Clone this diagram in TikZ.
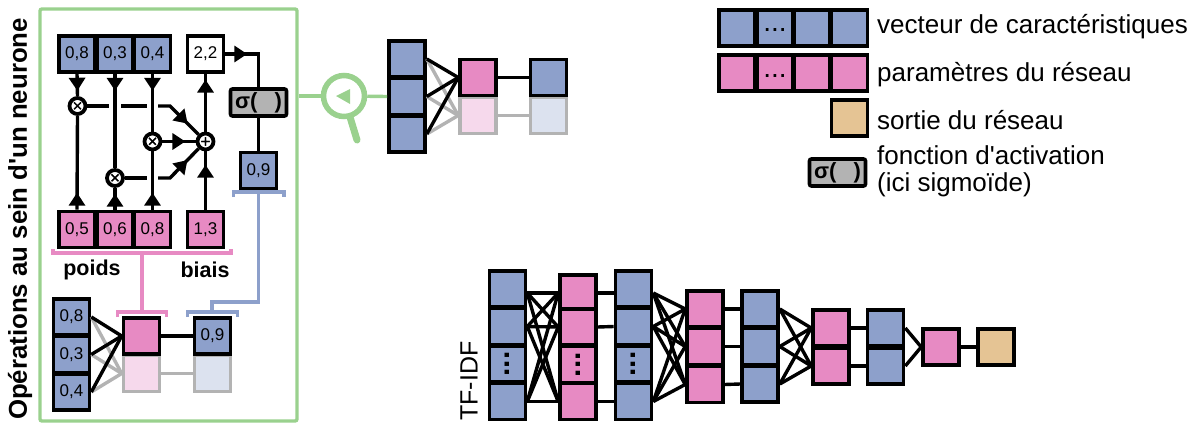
\documentclass[tikz,border=0pt]{standalone}
\usepackage{fontspec}
\setmainfont{Liberation Sans}[Ligatures=TeXOff]
\newfontfamily\opfont{DejaVu Sans}[FakeBold=3]
\usetikzlibrary{arrows.meta, decorations.markings}
\definecolor{vecblue}{HTML}{8DA0CB}
\definecolor{parpink}{HTML}{E78AC3}
\definecolor{outtan}{HTML}{E5C494}
\definecolor{zoomgreen}{HTML}{9AD18E}
\definecolor{fadegray}{HTML}{B3B3B3}
\definecolor{fadepink}{HTML}{F6D9EC}
\definecolor{fadeblue}{HTML}{DCE2EF}
\tikzset{
  cell/.style={draw=black, line width=3.6pt, minimum width=36pt, minimum height=36pt, inner sep=0pt, font=\fontsize{17}{17}\selectfont},
  bluecell/.style={cell, fill=vecblue},
  pinkcell/.style={cell, fill=parpink},
  tancell/.style={cell, fill=outtan},
  whitecell/.style={cell, fill=white},
  fadepinkcell/.style={cell, draw=fadegray, fill=fadepink},
  fadebluecell/.style={cell, draw=fadegray, fill=fadeblue},
  sigbox/.style={draw=black, fill=fadegray, line width=3.6pt, rounded corners=2pt, minimum width=56pt, minimum height=27pt, inner sep=0pt, font=\fontsize{22}{22}\selectfont\bfseries},
  opcircle/.style={circle, draw=black, fill=white, line width=3.8pt, minimum size=16pt, inner sep=0pt, font=\fontsize{13}{13}\selectfont\opfont},
  link/.style={draw=black, line width=3.4pt},
  fadelink/.style={draw=fadegray, line width=3.4pt},
  midtip/.style={postaction={decorate}, decoration={markings, mark=at position #1 with {\arrow{Triangle[length=13pt,width=16pt]}}}},
  pinkbrace/.style={draw=parpink, line width=3.2pt},
  bluebrace/.style={draw=vecblue, line width=3.2pt},
  greenline/.style={draw=zoomgreen, line width=3.4pt},
  label/.style={anchor=west, inner sep=0pt, font=\fontsize{26}{27}\selectfont},
  boldlabel/.style={inner sep=0pt, font=\fontsize{21.5}{21.5}\selectfont\bfseries},
  hdots/.style={inner sep=0pt, font=\fontsize{28}{28}\selectfont},
  vdots/.style={inner sep=0pt, rotate=90, font=\fontsize{30}{30}\selectfont\bfseries},
}

\begin{document}
\begin{tikzpicture}[x=1pt, y=-1pt]
\useasboundingbox (0,0) rectangle (1197,423);

% frame around the neuron
\node[draw=zoomgreen, line width=3.4pt, rounded corners=2pt, minimum width=257pt, minimum height=412pt, inner sep=0pt] (frame) at (168.5,215) {};
\node[rotate=90, inner sep=0pt, font=\fontsize{25.8}{26}\selectfont\bfseries] (title) at (20,219) {Opérations au sein d'un neurone};

% inside of the neuron
\node[bluecell] (feat1) at (77,54) {0,8};
\node[bluecell] (feat2) at (115,54) {0,3};
\node[bluecell] (feat3) at (152.5,54) {0,4};
\node[whitecell] (sumval) at (205.5,54) {2,2};
\node[pinkcell] (wght1) at (77,229.5) {0,5};
\node[pinkcell] (wght2) at (115,229.5) {0,6};
\node[pinkcell] (wght3) at (152.5,229.5) {0,8};
\node[pinkcell] (bias) at (205.5,229.5) {1,3};
\node[sigbox] (sigma) at (258.5,102.5) {σ(\hspace{17pt})};
\node[bluecell] (outval) at (258.5,170.5) {0,9};
\node[opcircle] (mula) at (77.5,106) {×};
\node[opcircle] (mulb) at (152.5,141.5) {×};
\node[opcircle] (mulc) at (115,178) {×};
\node[opcircle] (add) at (205.5,141.5) {+};

\draw[link, midtip=17pt] (feat1.south) -- (mula.north);
\draw[link, midtip=17pt] (feat2.south) -- (mulc.north);
\draw[link, midtip=17pt] (feat3.south) -- (mulb.north);
\draw[link, midtip=17pt] (wght1.north) -- (mula.south);
\draw[link, midtip=16pt] (wght2.north) -- (mulc.south);
\draw[link, midtip=17pt] (wght3.north) -- (mulb.south);
\draw[link, midtip=45pt] (bias.north) -- (add.south);
\draw[link, midtip=52pt] (add.north) -- (sumval.south);
\draw[link, midtip=22pt] (sumval.east) -| (sigma.north);
\draw[link] (sigma.south) -- (outval.north);

% products going to the sum, broken where they pass the wires
\coordinate (gapa) at (109,106);
\coordinate (gapb) at (121,106);
\coordinate (gapc) at (147,106);
\coordinate (gapd) at (158,106);
\coordinate (benda) at (170,106);
\coordinate (gape) at (147,178);
\coordinate (gapf) at (158,178);
\coordinate (bendc) at (170,178);
\draw[link] (mula.east) -- (gapa);
\draw[link] (gapb) -- (gapc);
\draw[link, midtip=37pt] (gapd) -- (benda) -- (add);
\draw[link, midtip=23pt] (mulb.east) -- (add.west);
\draw[link] (mulc.east) -- (gape);
\draw[link, midtip=37pt] (gapf) -- (bendc) -- (add);

% braces
\coordinate (pinkfrom) at (142,253);
\coordinate (pinkto) at (142,312);
\coordinate (bluefrom) at (258.5,192);
\coordinate (blueto) at (212,312);
\draw[pinkbrace] (53,249) -- (53,253) -- (231,253) -- (231,249);
\draw[pinkbrace] (117.5,317) -- (117.5,312) -- (166.5,312) -- (166.5,317);
\draw[pinkbrace] (pinkfrom) -- (pinkto);
\draw[bluebrace] (233.5,197) -- (233.5,192) -- (284,192) -- (284,197);
\draw[bluebrace] (187.5,317) -- (187.5,312) -- (237.5,312) -- (237.5,317);
\draw[bluebrace] (bluefrom) |- (212,302) -- (blueto);
\node[boldlabel] (poids) at (92,270) {poids};
\node[boldlabel] (biais) at (205,270) {biais};

% small network in the frame
\node[bluecell] (lowin1) at (71.5,317) {0,8};
\node[bluecell] (lowin2) at (71.5,354.5) {0,3};
\node[bluecell] (lowin3) at (71.5,392) {0,4};
\node[fadepinkcell] (lowfadeh) at (141.5,373.5) {};
\node[fadebluecell] (lowfadeo) at (212.5,373.5) {};
\draw[fadelink] (lowin1.east) -- (lowfadeh.west);
\draw[fadelink] (lowin2.east) -- (lowfadeh.west);
\draw[fadelink] (lowin3.east) -- (lowfadeh.west);
\draw[fadelink] (lowfadeh.east) -- (lowfadeo.west);
\node[pinkcell] (lowh) at (141.5,336) {};
\node[bluecell] (lowo) at (212.5,336) {0,9};
\draw[link] (lowin1.east) -- (lowh.west);
\draw[link] (lowin2.east) -- (lowh.west);
\draw[link] (lowin3.east) -- (lowh.west);
\draw[link] (lowh.east) -- (lowo.west);

% small network on top
\node[bluecell] (topin1) at (407,59) {};
\node[bluecell] (topin2) at (407,96.5) {};
\node[bluecell] (topin3) at (407,134) {};
\node[fadepinkcell] (topfadeh) at (478,115.5) {};
\node[fadebluecell] (topfadeo) at (548.5,115.5) {};
\draw[fadelink] (topin1.east) -- (topfadeh.west);
\draw[fadelink] (topin2.east) -- (topfadeh.west);
\draw[fadelink] (topin3.east) -- (topfadeh.west);
\draw[fadelink] (topfadeh.east) -- (topfadeo.west);
\node[pinkcell] (toph) at (478,77.5) {};
\node[bluecell] (topo) at (548.5,77.5) {};
\draw[link] (topin1.east) -- (toph.west);
\draw[link] (topin2.east) -- (toph.west);
\draw[link] (topin3.east) -- (toph.west);
\draw[link] (toph.east) -- (topo.west);

% magnifier
\node[circle, draw=zoomgreen, fill=white, line width=5.5pt, minimum size=41pt, inner sep=0pt] (lens) at (344,96) {};
\coordinate (handle) at (357,140);
\draw[greenline] (frame.east |- lens) -- (lens);
\draw[greenline] (lens) -- (topin2.west);
\draw[zoomgreen, line width=7pt, line cap=round] (lens.-74) -- (handle);
\fill[zoomgreen] (336,96) -- (350,89) -- (350,104) -- cycle;

% legend
\node[bluecell] (legblue1) at (737,28) {};
\node[bluecell] (legblue2) at (775,28) {};
\node[bluecell] (legblue3) at (812,28) {};
\node[bluecell] (legblue4) at (849.5,28) {};
\node[hdots] (legdotsa) at (775,30) {...};
\node[pinkcell] (legpink1) at (737,73) {};
\node[pinkcell] (legpink2) at (775,73) {};
\node[pinkcell] (legpink3) at (812,73) {};
\node[pinkcell] (legpink4) at (849.5,73) {};
\node[hdots] (legdotsb) at (775,76) {...};
\node[tancell] (legout) at (849.5,118) {};
\node[sigbox] (legsigma) at (837.5,172.5) {σ(\hspace{17pt})};
\node[label] (txtvec) at (877,27) {vecteur de caractéristiques};
\node[label] (txtpar) at (877,75) {paramètres du réseau};
\node[label] (txtout) at (877,120) {sortie du réseau};
\node[label, align=left] (txtsig) at (877,171) {fonction d'activation\\(ici sigmoïde)};

% large network
\node[rotate=90, inner sep=0pt, font=\fontsize{25}{25}\selectfont] (tfidf) at (469,381) {TF-IDF};
\node[bluecell] (a1) at (507.5,289) {};
\node[bluecell] (a2) at (507.5,326.5) {};
\node[bluecell] (a3) at (507.5,364) {};
\node[bluecell] (a4) at (507.5,401.5) {};
\node[pinkcell] (b1) at (578,293) {};
\node[pinkcell] (b2) at (578,327) {};
\node[pinkcell] (b3) at (578,364.5) {};
\node[pinkcell] (b4) at (578,401.5) {};
\node[bluecell] (c1) at (633.5,289) {};
\node[bluecell] (c2) at (633.5,326.5) {};
\node[bluecell] (c3) at (633.5,364) {};
\node[bluecell] (c4) at (633.5,401.5) {};
\node[pinkcell] (d1) at (705,309) {};
\node[pinkcell] (d2) at (705,346.5) {};
\node[pinkcell] (d3) at (705,384.5) {};
\node[bluecell] (e1) at (760,309) {};
\node[bluecell] (e2) at (760,346.5) {};
\node[bluecell] (e3) at (760,384) {};
\node[pinkcell] (f1) at (831,328) {};
\node[pinkcell] (f2) at (831,366) {};
\node[bluecell] (g1) at (885.5,328) {};
\node[bluecell] (g2) at (885.5,366) {};
\node[pinkcell] (h1) at (941,347) {};
\node[tancell] (i1) at (996,347) {};
\node[vdots] (dotsa) at (507.5,364) {...};
\node[vdots] (dotsb) at (578,364.5) {...};
\node[vdots] (dotsc) at (633.5,364) {...};

% the rows with dots stay unconnected, top wires leave at the height of b1
\coordinate (a1out) at (a1.east |- b1);
\coordinate (c1in) at (c1.west |- b1);
\coordinate (c1out) at (c1.east |- b1);
\draw[link] (a1out) -- (b1.west);
\draw[link] (a1out) -- (b2.west);
\draw[link] (a1out) -- (b4.west);
\draw[link] (a2.east) -- (b1.west);
\draw[link] (a2.east) -- (b2.west);
\draw[link] (a2.east) -- (b4.west);
\draw[link] (a4.east) -- (b1.west);
\draw[link] (a4.east) -- (b2.west);
\draw[link] (a4.east) -- (b4.west);
\draw[link] (b1.east) -- (c1in);
\draw[link] (b2.east) -- (c2.west);
\draw[link] (b4.east) -- (c4.west);
\draw[link] (c1out) -- (d1.west);
\draw[link] (c1out) -- (d2.west);
\draw[link] (c1out) -- (d3.west);
\draw[link] (c2.east) -- (d1.west);
\draw[link] (c2.east) -- (d2.west);
\draw[link] (c2.east) -- (d3.west);
\draw[link] (c4.east) -- (d1.west);
\draw[link] (c4.east) -- (d2.west);
\draw[link] (c4.east) -- (d3.west);
\draw[link] (d1.east) -- (e1.west);
\draw[link] (d2.east) -- (e2.west);
\draw[link] (d3.east) -- (e3.west);
\draw[link] (e1.east) -- (f1.west);
\draw[link] (e1.east) -- (f2.west);
\draw[link] (e2.east) -- (f1.west);
\draw[link] (e2.east) -- (f2.west);
\draw[link] (e3.east) -- (f1.west);
\draw[link] (e3.east) -- (f2.west);
\draw[link] (f1.east) -- (g1.west);
\draw[link] (f2.east) -- (g2.west);
\draw[link] (g1.east) -- (h1.west);
\draw[link] (g2.east) -- (h1.west);
\draw[link] (h1.east) -- (i1.west);
\end{tikzpicture}
\end{document}
